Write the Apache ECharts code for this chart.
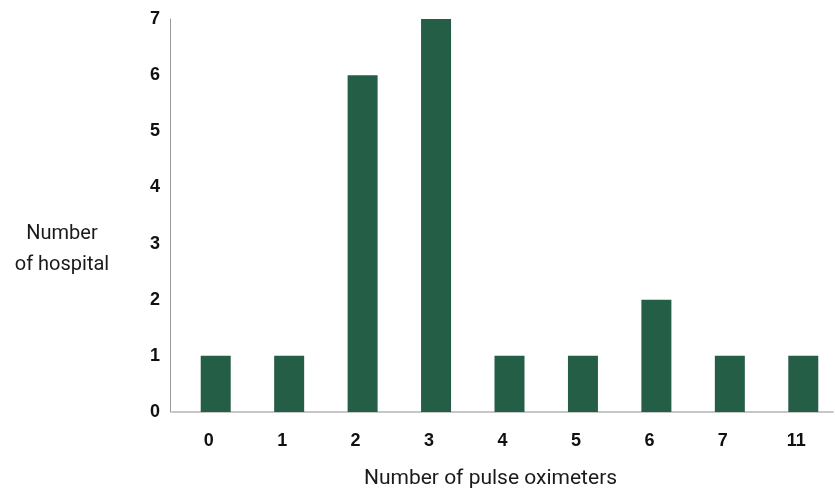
<!DOCTYPE html>
<html><head><meta charset="utf-8">
<script src="https://cdn.jsdelivr.net/npm/echarts@6/dist/echarts.min.js"></script>
<style>html,body{margin:0;padding:0;background:#fff}#c{width:835px;height:488px}</style>
</head><body><div id="c"></div>
<script>
const categories = ['0','1','2','3','4','5','6','7','11'];
const hospitals = [1,1,6,7,1,1,2,1,1];
const yTicks = [0,1,2,3,4,5,6,7];

const labelFont = {fontFamily:'Liberation Sans',fontWeight:'bold',fontSize:18,color:'#111'};
const chart = echarts.init(document.getElementById('c'));
chart.setOption({
  animation:false,
  grid:{left:172,right:2,top:19,bottom:76,containLabel:false,outerBoundsMode:'none'},
  xAxis:{type:'category',data:categories,
    name:'Number of pulse oximeters',nameLocation:'middle',nameGap:56,
    nameTextStyle:{fontFamily:'Roboto',fontSize:21,color:'#1a1a1a',padding:[0,24,0,0]},
    axisLine:{lineStyle:{color:'#c6c6c6',width:2}},axisTick:{show:false},
    axisLabel:Object.assign({margin:20},labelFont)},
  yAxis:{type:'value',min:0,max:7,interval:1,offset:2,
    name:'Number\nof hospital',nameLocation:'middle',nameGap:108,nameRotate:0,
    nameTextStyle:{fontFamily:'Roboto',fontSize:20,color:'#1a1a1a',lineHeight:31,align:'center',verticalAlign:'top',padding:[3,0,0,0]},
    axisLine:{show:true,lineStyle:{color:'#9a9a9a',width:1}},axisTick:{show:false},
    splitLine:{show:false},
    axisLabel:Object.assign({margin:10,formatter:v=>yTicks.includes(v)?String(v):''},labelFont)},
  series:[
    {type:'bar',data:[],barWidth:14,silent:true},
    {type:'bar',data:hospitals,barWidth:30,barGap:'0%',itemStyle:{color:'#245E46'}}
  ]
});
</script></body></html>
